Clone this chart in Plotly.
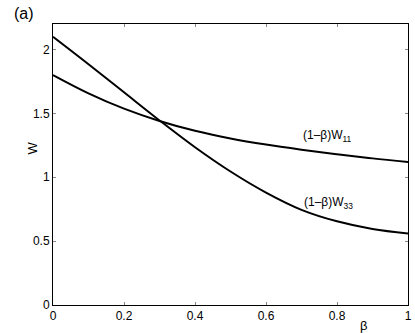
import plotly.graph_objects as go

beta = [0, 0.1, 0.2, 0.3, 0.4, 0.5, 0.6, 0.7, 0.8, 0.9, 1.0]
w11 = [1.80, 1.657, 1.537, 1.441, 1.364, 1.304, 1.256, 1.216, 1.180, 1.148, 1.12]
w33 = [2.10, 1.885, 1.665, 1.445, 1.235, 1.045, 0.88, 0.745, 0.655, 0.595, 0.56]
x_ticks = [0, 0.2, 0.4, 0.6, 0.8, 1]
x_tick_labels = ["0", "0.2", "0.4", "0.6", "0.8", "1"]
y_ticks = [0, 0.5, 1, 1.5, 2]
y_tick_labels = ["0", "0.5", "1", "1.5", "2"]

font = "Liberation Sans, Arial, sans-serif"

fig = go.Figure()
fig.add_trace(go.Scatter(x=beta, y=w11, mode="lines", line=dict(color="black", width=2, shape="spline", smoothing=1.0), showlegend=False))
fig.add_trace(go.Scatter(x=beta, y=w33, mode="lines", line=dict(color="black", width=2, shape="spline", smoothing=1.0), showlegend=False))

axis_common = dict(showgrid=False, zeroline=False, showline=True, linecolor="black", linewidth=1,
                   mirror="ticks", ticks="inside", ticklen=3, tickcolor="#888", automargin=False,
                   ticklabeloverflow="allow",
                   tickfont=dict(family=font, size=12, color="black"))

fig.update_xaxes(range=[0, 1], tickvals=x_ticks, ticktext=x_tick_labels, **axis_common)
fig.update_yaxes(range=[0, 2.2], tickvals=y_ticks, ticktext=y_tick_labels, **axis_common)

fig.add_annotation(x=0.774, y=1.32, xref="x", yref="y", text="(1\u2013\u03b2)W<sub>11</sub>", showarrow=False,
                   font=dict(family=font, size=12, color="black"))
fig.add_annotation(x=0.777, y=0.80, xref="x", yref="y", text="(1\u2013\u03b2)W<sub>33</sub>", showarrow=False,
                   font=dict(family=font, size=12, color="black"))

L, R, T, B = 52.5, 6.5, 24, 28
W, H = 415, 333
pw, ph = W - L - R, H - T - B

def px_ann(xpx, ypx, text, size, angle=0, yanchor="middle"):
    fig.add_annotation(x=(xpx - L) / pw, y=((H - ypx) - B) / ph, xref="paper", yref="paper",
                       text=text, showarrow=False, textangle=angle, yanchor=yanchor, borderpad=0,
                       font=dict(family=font, size=size, color="black"))

px_ann(368, 317, "\u03b2", 13, yanchor="top")
px_ann(22.5, 148, "W", 13, -90)
px_ann(12, 14, "(a)", 16)

fig.update_layout(width=W, height=H, margin=dict(l=L, r=R, t=T, b=B, autoexpand=False),
                  plot_bgcolor="white", paper_bgcolor="white")
fig.write_html("out.html", config={"displayModeBar": False},
               post_script="document.body.style.margin='0';document.body.style.overflow='hidden';")
